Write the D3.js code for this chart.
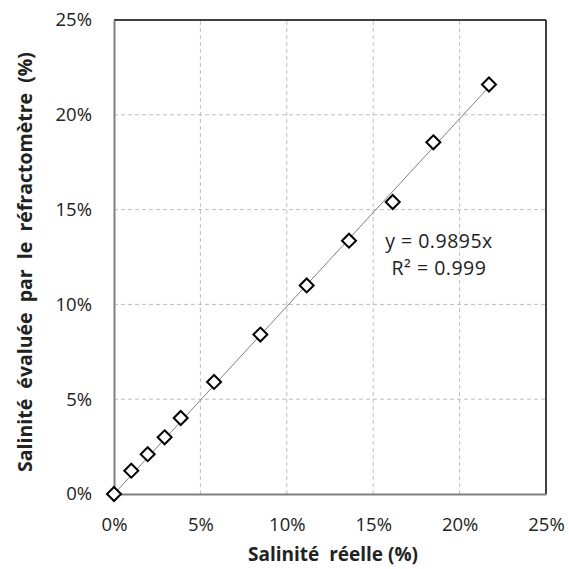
<!DOCTYPE html>
<html><head><meta charset="utf-8">
<script src="https://cdn.jsdelivr.net/npm/d3@7"></script>
<style>body{margin:0;background:#fff}svg{display:block}text{font-family:"Open Sans",sans-serif}</style>
</head><body>
<script>
const actual = [0, 1.0, 1.95, 2.93, 3.86, 5.79, 8.47, 11.15, 13.6, 16.13, 18.48, 21.7];
const measured = [0, 1.23, 2.1, 2.99, 4.01, 5.91, 8.41, 11.0, 13.36, 15.4, 18.55, 21.6];
const ticks = [0, 5, 10, 15, 20, 25];
const slope = 0.9895;
const eqLines = ["y = 0.9895x", "R² = 0.999"];
const xTitle = "Salinité  réelle (%)";
const yTitle = "Salinité  évaluée  par  le  réfractomètre  (%)";

const W = 569, H = 569;
const m = {l:114, r:23, t:20, b:75};
const FONT = "'Open Sans', sans-serif";
const svg = d3.select("body").append("svg").attr("width", W).attr("height", H);
const x = d3.scaleLinear().domain([0,25]).range([m.l, W-m.r]);
const y = d3.scaleLinear().domain([0,25]).range([H-m.b, m.t]);

// gridlines
svg.append("g").selectAll("line").data(ticks.slice(1,-1)).join("line")
  .attr("x1", d=>x(d)).attr("x2", d=>x(d)).attr("y1", y(0)).attr("y2", y(25))
  .attr("stroke", "#bfbfbf").attr("stroke-dasharray", "4,3").attr("stroke-width", 1);
svg.append("g").selectAll("line").data(ticks.slice(1,-1)).join("line")
  .attr("y1", d=>y(d)).attr("y2", d=>y(d)).attr("x1", x(0)).attr("x2", x(25))
  .attr("stroke", "#bfbfbf").attr("stroke-dasharray", "4,3").attr("stroke-width", 1);

// frame top/right
svg.append("line").attr("x1", x(0)).attr("x2", x(25)).attr("y1", y(25)).attr("y2", y(25)).attr("stroke", "#000").attr("stroke-width", 1.5);
svg.append("line").attr("x1", x(25)).attr("x2", x(25)).attr("y1", y(25)).attr("y2", y(0)).attr("stroke", "#000").attr("stroke-width", 1.5);

// axes
const fmt = d => d + "%";
const gx = svg.append("g").attr("transform", `translate(0,${y(0)})`)
  .call(d3.axisBottom(x).tickValues(ticks).tickFormat(fmt).tickSize(0).tickPadding(24));
const gy = svg.append("g").attr("transform", `translate(${x(0)},0)`)
  .call(d3.axisLeft(y).tickValues(ticks).tickFormat(fmt).tickSize(0).tickPadding(22));
[gx, gy].forEach(g => {
  g.select(".domain").attr("stroke", "#808080").attr("stroke-width", 2);
  g.selectAll("text").attr("font-size", 18.5).attr("fill", "#222").style("font-family", FONT);
});

// trendline
const xmax = d3.max(actual);
svg.append("line").attr("x1", x(0)).attr("y1", y(0)).attr("x2", x(xmax)).attr("y2", y(slope*xmax))
  .attr("stroke", "#808080").attr("stroke-width", 1);

// points
const pts = actual.map((v,i)=>({x:v, y:measured[i]}));
svg.append("g").selectAll("path").data(pts).join("path")
  .attr("transform", d=>`translate(${x(d.x)},${y(d.y)})`)
  .attr("d", "M0,-7L7,0L0,7L-7,0Z")
  .attr("fill", "#fff").attr("stroke", "#000").attr("stroke-width", 2);

// equation
svg.append("g").selectAll("text").data(eqLines).join("text")
  .attr("x", 439).attr("y", (d,i)=>248 + i*27).attr("text-anchor", "middle")
  .attr("font-size", 19.5).attr("letter-spacing", 0.5).attr("fill", "#222").text(d=>d);

// titles
svg.append("text").attr("x", 333).attr("y", 561).attr("text-anchor", "middle")
  .attr("font-size", 19).attr("font-weight", "bold").attr("fill", "#222").style("white-space","pre").text(xTitle);
svg.append("text").attr("transform", `translate(32,262) rotate(-90)`).attr("text-anchor", "middle")
  .attr("font-size", 19.5).attr("font-weight", "bold").attr("fill", "#222").style("white-space","pre").text(yTitle);
</script>
</body></html>
